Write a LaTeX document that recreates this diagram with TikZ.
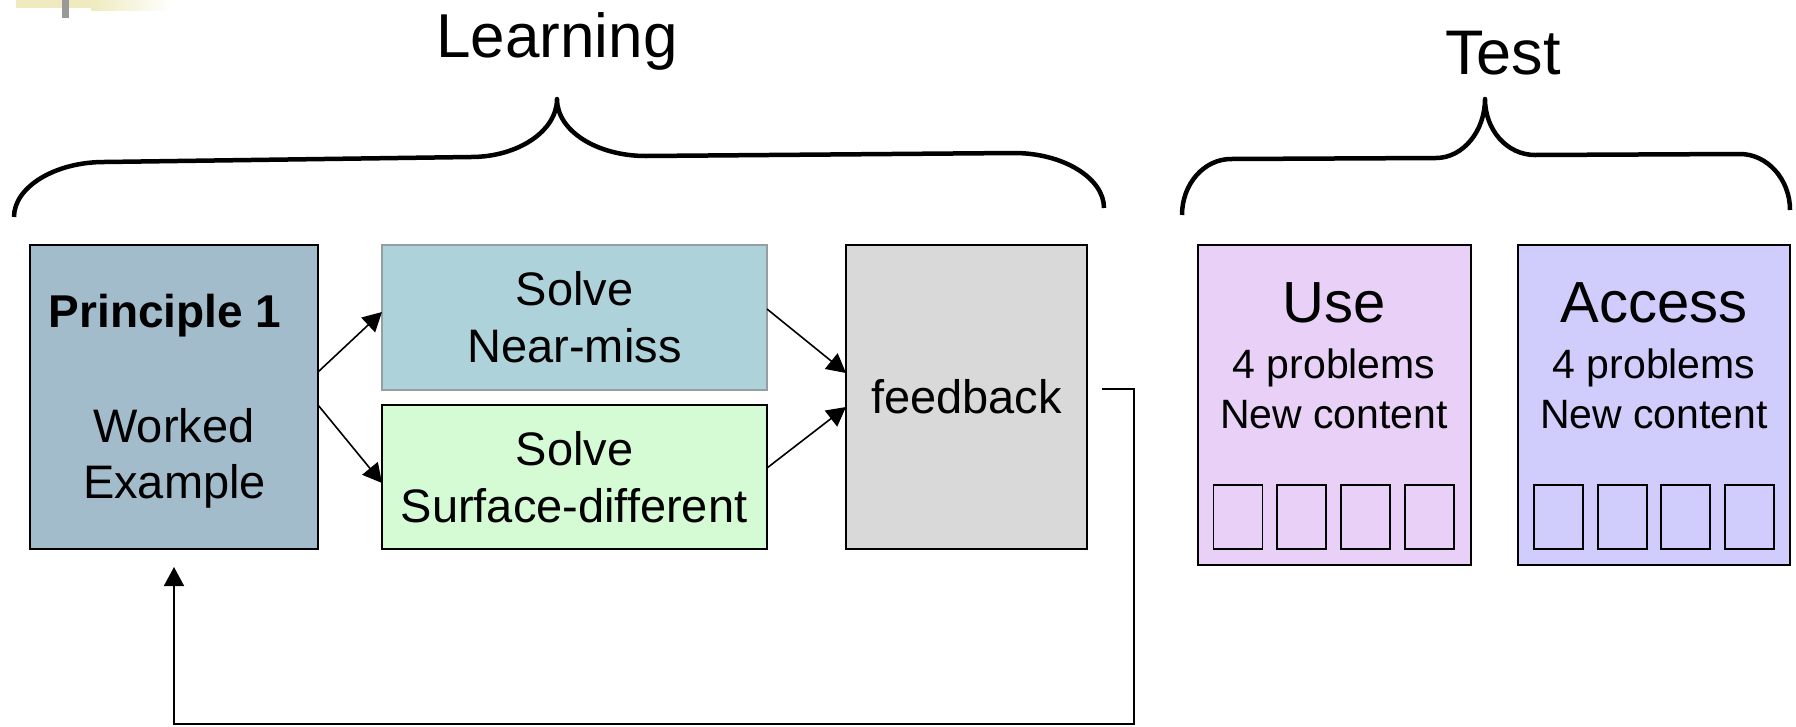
\documentclass[tikz,border=0pt]{standalone}
\usepackage{fontspec}
\setmainfont{Liberation Sans}
\usetikzlibrary{arrows.meta,calc}
\newcommand\fsz[1]{\fontsize{#1}{#1}\selectfont}
\definecolor{prinfill}{HTML}{A3BCCB}
\definecolor{nearfill}{HTML}{AED2DA}
\definecolor{nearedge}{HTML}{939FA2}
\definecolor{surffill}{HTML}{D5FBD5}
\definecolor{fbfill}{HTML}{D9D9D9}
\definecolor{usefill}{HTML}{E8D0F6}
\definecolor{accfill}{HTML}{D0CCFC}
\definecolor{bandyellow}{HTML}{EFEBBF}
\definecolor{bandgray}{HTML}{999999}
\tikzset{
  box/.style={draw=black, line width=1.8pt, rectangle, inner sep=0pt, outer sep=0pt},
  slot/.style={draw=black, line width=1.6pt, rectangle, inner sep=0pt, outer sep=0pt,
               minimum width=49pt, minimum height=64pt},
  lbl/.style={anchor=base, inner sep=0pt, outer sep=0pt},
  conn/.style={line width=1.6pt, -{Triangle[length=19pt,width=20pt]}},
  brace/.style={line width=4.5pt, line join=round, line cap=butt},
}
\begin{document}
\begin{tikzpicture}[x=1pt, y=-1pt]
\useasboundingbox (0,0) rectangle (1796,726);

% slide header band in the corner
\shade[left color=bandyellow, right color=white, draw=none] (91,0) rectangle (172,10);
\fill[bandyellow] (16,0) rectangle (91,8);
\fill[bandgray] (62,0) rectangle (69,18);

% titles
\node[lbl] (tlearn) at (557,57) {\fsz{62}Learning};
\node[lbl] (ttest) at (1503,74) {\fsz{63}Test};

% braces
\draw[brace] (14,217) .. controls (14,187) and (55,162) .. (104,162)
  -- (471,157) .. controls (518,157) and (557,131) .. (557,99)
  .. controls (557,131) and (597,156) .. (646,156)
  -- (1014,153) .. controls (1063,153) and (1104,178) .. (1104,208);
\draw[brace] (1182,215) .. controls (1182,184) and (1204,159) .. (1231,159)
  -- (1436,158) .. controls (1463,158) and (1485,131) .. (1485,99)
  .. controls (1485,130) and (1507,155) .. (1535,155)
  -- (1740,154) .. controls (1767,154) and (1790,179) .. (1790,210);

% learning phase boxes
\node[box, fill=prinfill, minimum width=288pt, minimum height=304pt] (prin) at (174,397) {};
\node[box, draw=nearedge, line width=1.4pt, fill=nearfill, minimum width=385pt, minimum height=145pt] (near) at (574.5,317.5) {};
\node[box, fill=surffill, minimum width=385pt, minimum height=144pt] (surf) at (574.5,477) {};
\node[box, fill=fbfill, minimum width=241pt, minimum height=304pt] (fb) at (966.5,397) {};

\node[lbl] (prinA) at (165,327) {\fsz{46}\bfseries Principle 1};
\node[lbl] (prinB) at (174,442) {\fsz{47}Worked};
\node[lbl] (prinC) at (174.5,498) {\fsz{47}Example};
\node[lbl] (nearA) at (574.5,305) {\fsz{47}Solve};
\node[lbl] (nearB) at (574.5,362) {\fsz{47}Near-miss};
\node[lbl] (surfA) at (574.5,465) {\fsz{47}Solve};
\node[lbl] (surfB) at (574,522) {\fsz{47}Surface-different};
\node[lbl] (fbA) at (966.5,413) {\fsz{47}feedback};

% test phase boxes
\node[box, fill=usefill, minimum width=273pt, minimum height=320pt] (use) at (1334.5,405) {};
\node[box, fill=accfill, minimum width=272pt, minimum height=320pt] (acc) at (1654,405) {};
\node[lbl] (useA) at (1334,322) {\fsz{58}Use};
\node[lbl] (useB) at (1334,378) {\fsz{41}4 problems};
\node[lbl] (useC) at (1334,428) {\fsz{41}New content};
\node[lbl] (accA) at (1654,322) {\fsz{58}Access};
\node[lbl] (accB) at (1654,378) {\fsz{41}4 problems};
\node[lbl] (accC) at (1654,428) {\fsz{41}New content};
\foreach \i/\x in {1/1238, 2/1301.5, 3/1365.5, 4/1429.5}
  \node[slot] (useslot\i) at (\x,517) {};
\foreach \i/\x in {1/1558.5, 2/1622.5, 3/1685.5, 4/1749.5}
  \node[slot] (accslot\i) at (\x,517) {};

% connectors
\draw[conn] ([yshift=25pt]prin.east) -- ([yshift=5.5pt]near.west);
\draw[conn] ([yshift=-8pt]prin.east) -- ([yshift=-6pt]surf.west);
\draw[conn] ([yshift=8.5pt]near.east) -- ([yshift=24pt]fb.west);
\draw[conn] ([yshift=9pt]surf.east) -- ([yshift=-10pt]fb.west);

% feedback loop back to the worked example
\coordinate (loopstart) at ([xshift=15pt,yshift=8pt]fb.east);
\coordinate (loopcorner) at (1134,724);
\coordinate (loopend) at ([yshift=-18pt]prin.south);
\draw[conn] (loopstart) -| (loopcorner) -| (loopend);
\end{tikzpicture}
\end{document}
